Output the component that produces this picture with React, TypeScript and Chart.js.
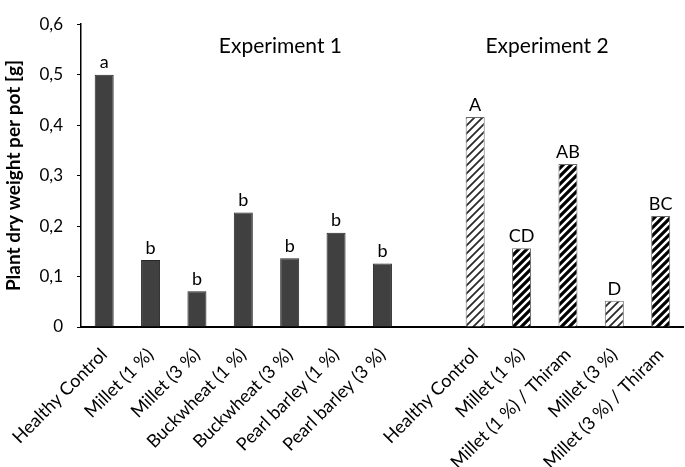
import React, { useEffect, useRef } from "react";
import { Chart, registerables } from "chart.js";

Chart.register(...registerables);

const exp1Categories = [
  "Healthy Control",
  "Millet (1 %)",
  "Millet (3 %)",
  "Buckwheat (1 %)",
  "Buckwheat (3 %)",
  "Pearl barley (1 %)",
  "Pearl barley (3 %)",
];
const exp2Categories = [
  "Healthy Control",
  "Millet (1 %)",
  "Millet (1 %) / Thiram",
  "Millet (3 %)",
  "Millet (3 %) / Thiram",
];
const exp1Values = [0.5, 0.133, 0.071, 0.227, 0.136, 0.187, 0.126];
const exp2Values = [0.416, 0.156, 0.323, 0.052, 0.22];
const exp1Letters = ["a", "b", "b", "b", "b", "b", "b"];
const exp2Letters = ["A", "CD", "AB", "D", "BC"];
// hatch style per exp2 bar: "light" = thin stripes, "heavy" = thick stripes
const exp2Hatch = ["light", "heavy", "heavy", "light", "heavy"];
const yTicks = [0, 0.1, 0.2, 0.3, 0.4, 0.5, 0.6];
const groupTitles = ["Experiment 1", "Experiment 2"];
const yTitle = "Plant dry weight per pot [g]";

const FONT = "Lato, 'Open Sans', sans-serif";

function makeHatch(kind: string): CanvasPattern | string {
  const size = 8;
  const c = document.createElement("canvas");
  c.width = size;
  c.height = size;
  const g = c.getContext("2d");
  if (!g) return "#fff";
  g.fillStyle = "#ffffff";
  g.fillRect(0, 0, size, size);
  g.strokeStyle = kind === "heavy" ? "#000000" : "#2a2a2a";
  g.lineWidth = kind === "heavy" ? 3.2 : 1.8;
  g.beginPath();
  g.moveTo(-2, size + 2);
  g.lineTo(size + 2, -2);
  g.moveTo(-2, 2);
  g.lineTo(2, -2);
  g.moveTo(size - 2, size + 2);
  g.lineTo(size + 2, size - 2);
  g.stroke();
  const p = g.createPattern(c, "repeat");
  return p || "#fff";
}

export default function App() {
  const ref = useRef<HTMLCanvasElement | null>(null);

  useEffect(() => {
    if (!ref.current) return;
    const labels = [...exp1Categories, "", ...exp2Categories];
    const values: (number | null)[] = [...exp1Values, null, ...exp2Values];
    const letters = [...exp1Letters, "", ...exp2Letters];
    const bg: (string | CanvasPattern)[] = [
      ...exp1Values.map(() => "#404040"),
      "#fff",
      ...exp2Hatch.map((h) => makeHatch(h)),
    ];
    const border = [
      ...exp1Values.map(() => "#262626"),
      "#000",
      ...exp2Hatch.map(() => "#6a6a6a"),
    ];

    const annot = {
      id: "annot",
      afterDatasetsDraw(chart: any) {
        const ctx = chart.ctx;
        const x = chart.scales.x;
        const y = chart.scales.y;
        ctx.save();
        ctx.fillStyle = "#000";
        ctx.textAlign = "center";
        ctx.textBaseline = "bottom";
        ctx.font = `18px ${FONT}`;
        values.forEach((v, i) => {
          if (v == null) return;
          ctx.fillText(letters[i], x.getPixelForValue(i), y.getPixelForValue(v) - 3);
        });
        ctx.font = `21px ${FONT}`;
        ctx.textBaseline = "middle";
        const step = x.getPixelForValue(1) - x.getPixelForValue(0);
        const c1 = x.getPixelForValue(3) + 0.8 * step;
        const c2 = x.getPixelForValue(9) + 0.55 * step;
        ctx.fillText(groupTitles[0], c1, 46);
        ctx.fillText(groupTitles[1], c2, 46);
        ctx.restore();
      },
    };

    const chart = new Chart(ref.current, {
      type: "bar",
      data: {
        labels,
        datasets: [
          {
            data: values as any,
            backgroundColor: bg as any,
            borderColor: border,
            borderWidth: 1,
            barPercentage: 0.41,
            categoryPercentage: 1,
          },
        ],
      },
      options: {
        animation: false,
        responsive: false,
        maintainAspectRatio: false,
        layout: { padding: { top: 11, right: 1, left: 0, bottom: 0 } },
        plugins: { legend: { display: false }, tooltip: { enabled: false } },
        scales: {
          x: {
            grid: { display: false },
            border: { display: true, color: "#000", width: 2 },
            ticks: {
              color: "#000",
              font: { family: FONT, size: 18 },
              minRotation: 45,
              maxRotation: 45,
              autoSkip: false,
              padding: 9,
            },
            afterFit(scale: any) {
              scale.height = 140;
            },
          },
          y: {
            min: 0,
            max: 0.6,
            afterBuildTicks(scale: any) {
              scale.ticks = yTicks.map((v) => ({ value: v }));
            },
            grid: {
              display: true,
              drawOnChartArea: false,
              drawTicks: true,
              tickLength: 4,
              color: "#000",
            },
            border: { display: true, color: "#000", width: 1.5 },
            ticks: {
              color: "#000",
              font: { family: FONT, size: 17 },
              padding: 14,
              callback: (v: any) => (v === 0 ? "0" : Number(v).toFixed(1).replace(".", ",")),
            },
            title: {
              display: true,
              text: yTitle,
              color: "#000",
              font: { family: FONT, size: 19, weight: "bold" },
              padding: { top: 2, bottom: 0 },
            },
            afterFit(scale: any) {
              scale.width = 81;
            },
          },
        },
      },
      plugins: [annot],
    });
    return () => chart.destroy();
  }, []);

  return (
    <div style={{ position: "fixed", left: 0, top: 0, width: 685, height: 467, background: "#fff" }}>
      <canvas ref={ref} width={685} height={467} style={{ width: 685, height: 467, display: "block" }} />
    </div>
  );
}
